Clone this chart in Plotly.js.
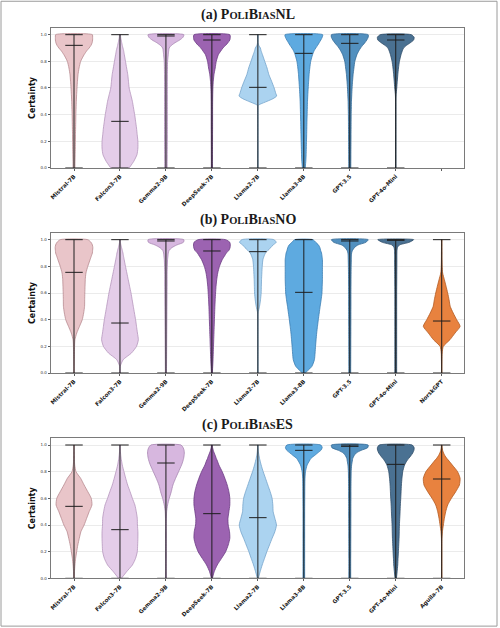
<!DOCTYPE html>
<html>
<head>
<meta charset="utf-8">
<script src="https://cdn.plot.ly/plotly-3.0.1.min.js"></script>
<style>
html,body{margin:0;padding:0;background:#fff;}
#chart{width:500px;height:628px;}
</style>
</head>
<body>
<div id="chart"></div>
<script>
// ---------------- data ----------------
const levels = [0,.05,.1,.15,.2,.25,.3,.35,.4,.45,.5,.55,.6,.65,.7,.75,.8,.85,.88,.9,.92,.94,.96,.98,1];

const modelsNL = ["Mistral-7B","Falcon3-7B","Gemma2-9B","DeepSeek-7B","Llama2-7B","Llama3-8B","GPT-3.5","GPT-4o-Mini",""];
const modelsNO = ["Mistral-7B","Falcon3-7B","Gemma2-9B","DeepSeek-7B","Llama2-7B","Llama3-8B","GPT-3.5","GPT-4o-Mini","NorskGPT"];
const modelsES = ["Mistral-7B","Falcon3-7B","Gemma2-9B","DeepSeek-7B","Llama2-7B","Llama3-8B","GPT-3.5","GPT-4o-Mini","Aguila-7B"];

const mediansNL = [0.92, 0.35, 0.99, 0.96, 0.605, 0.86, 0.935, 0.96];
const mediansNO = [0.755, 0.375, 0.99, 0.915, 0.91, 0.605, 0.99, 0.995, 0.39];
const mediansES = [0.54, 0.365, 0.865, 0.485, 0.455, 0.96, 0.99, 0.855, 0.745];

const dataMin = 0, dataMax = 1;

// density profiles (half-width of each violin at the certainty levels)
const nlMistral = [.02,.022,.025,.028,.03,.032,.035,.038,.04,.045,.05,.057,.065,.075,.087,.11,.145,.22,.28,.33,.37,.395,.405,.405,.40];
const nlFalcon  = [.2,.3,.37,.39,.39,.375,.36,.34,.32,.295,.27,.235,.2,.185,.17,.145,.12,.095,.08,.065,.05,.038,.025,.015,.008];
const nlGemma   = [.025,.026,.027,.028,.029,.03,.03,.03,.03,.03,.03,.03,.03,.03,.031,.033,.036,.05,.06,.07,.12,.2,.3,.37,.39];
const nlDeep    = [.012,.012,.013,.013,.014,.014,.015,.015,.015,.015,.016,.018,.022,.03,.045,.072,.095,.14,.2,.24,.3,.35,.39,.40,.39];
const nlLlama2Levels = [0,.2,.4,.46,.47,.48,.5,.52,.54,.56,.6,.65,.7,.75,.8,.85,.88,.9,.92,.94,1];
const nlLlama2  = [.004,.004,.004,.005,.01,.06,.2,.33,.41,.39,.355,.3,.24,.2,.15,.1,.07,.055,.02,.006,.004];
const nlLlama3  = [.03,.043,.05,.054,.058,.062,.065,.068,.072,.076,.08,.087,.095,.105,.115,.13,.15,.19,.225,.26,.3,.335,.37,.40,.41];
const nlGpt35   = [.022,.023,.024,.025,.026,.027,.028,.029,.03,.033,.036,.043,.05,.06,.072,.09,.11,.155,.2,.235,.28,.33,.37,.40,.40];
const nlGpt4o   = [.004,.004,.004,.004,.004,.004,.004,.004,.004,.004,.004,.008,.022,.033,.045,.06,.08,.115,.145,.17,.235,.32,.39,.40,.34];

const noMistral = [.005,.006,.008,.01,.012,.02,.06,.12,.18,.21,.23,.232,.235,.24,.245,.26,.30,.35,.38,.40,.405,.41,.40,.37,.3];
const noFalcon  = [.004,.006,.07,.25,.36,.40,.38,.36,.34,.315,.29,.265,.24,.21,.18,.15,.12,.092,.075,.065,.05,.035,.02,.01,.005];
const noGemma   = [.012,.013,.014,.015,.016,.017,.018,.019,.02,.021,.022,.023,.024,.025,.025,.025,.03,.035,.045,.05,.07,.13,.235,.38,.39];
const noDeep    = [.01,.018,.025,.03,.035,.04,.045,.05,.055,.06,.065,.072,.08,.09,.105,.127,.165,.225,.28,.315,.37,.395,.40,.39,.3];
const noLlama2  = [.004,.004,.004,.004,.004,.004,.004,.004,.004,.005,.036,.058,.072,.076,.08,.087,.095,.11,.14,.165,.22,.28,.33,.40,.35];
const noLlama3  = [.03,.175,.23,.245,.255,.267,.28,.297,.315,.335,.355,.377,.395,.40,.405,.405,.405,.405,.395,.385,.365,.35,.32,.26,.2];
const noGpt35   = [.02,.02,.021,.021,.022,.022,.023,.023,.024,.024,.025,.025,.025,.026,.027,.028,.03,.033,.036,.04,.06,.1,.175,.35,.40];
const noGpt4o   = [.02,.02,.02,.02,.02,.02,.02,.02,.02,.02,.02,.02,.02,.021,.022,.023,.024,.025,.025,.025,.027,.035,.08,.29,.39];
const noNorsk   = [.004,.004,.006,.01,.035,.18,.29,.40,.325,.25,.185,.16,.13,.095,.058,.02,.01,.007,.006,.006,.005,.005,.005,.005,.005];

const esMistral = [.005,.01,.02,.035,.058,.083,.115,.15,.22,.275,.33,.39,.375,.30,.22,.145,.043,.015,.01,.01,.008,.007,.006,.005,.005];
const esFalcon  = [.03,.145,.27,.34,.377,.385,.39,.39,.38,.377,.355,.325,.27,.22,.167,.125,.087,.05,.035,.025,.018,.012,.008,.006,.005];
const esGemma   = [.008,.008,.008,.008,.008,.008,.008,.008,.008,.01,.015,.036,.072,.116,.152,.21,.275,.34,.37,.385,.395,.40,.395,.375,.33];
const esDeep    = [.01,.05,.116,.21,.30,.355,.39,.384,.355,.35,.37,.39,.39,.37,.333,.283,.225,.152,.12,.094,.075,.05,.03,.015,.006];
const esLlama2  = [.01,.05,.094,.145,.196,.253,.31,.37,.405,.37,.333,.326,.31,.268,.217,.167,.116,.072,.05,.036,.025,.015,.01,.006,.005];
const esLlama3  = [.018,.018,.018,.018,.018,.018,.018,.018,.018,.018,.018,.019,.02,.021,.022,.025,.036,.072,.12,.156,.23,.3,.37,.40,.37];
const esGpt35   = [.02,.02,.02,.02,.021,.021,.022,.022,.023,.023,.024,.024,.025,.025,.026,.028,.03,.04,.055,.065,.094,.14,.246,.39,.40];
const esGpt4o   = [.015,.03,.043,.05,.058,.065,.072,.076,.08,.087,.094,.1,.109,.116,.123,.135,.152,.192,.24,.283,.33,.37,.395,.40,.36];
const esAguila  = [.004,.004,.004,.004,.004,.004,.006,.015,.036,.058,.087,.13,.21,.305,.385,.40,.345,.23,.16,.11,.07,.04,.02,.01,.005];

const yTickVals = [0, 0.2, 0.4, 0.6, 0.8, 1.0];
const yTickText = ["0.0","0.2","0.4","0.6","0.8","1.0"];

// ---------------- styles ----------------
const fills = ["#e9c5c9","#e4cde9","#d7b7df","#9c63b1","#abd3f0","#5eaae0","#5290bf","#4a7192","#e8823f"];
const edges = ["#b88a90","#b596bd","#a887b3","#6c3c84","#76a5cc","#3b7db3","#336a96","#2e4d68","#b25a22"];

const panels = [
  {title:'(a) P<span style="font-size:10.5px">OLI</span>B<span style="font-size:10.5px">IAS</span>NL',
   models: modelsNL, medians: mediansNL,
   profiles: [[levels,nlMistral],[levels,nlFalcon],[levels,nlGemma],[levels,nlDeep],[nlLlama2Levels,nlLlama2],[levels,nlLlama3],[levels,nlGpt35],[levels,nlGpt4o]],
   dom:[0.7325,0.9554], ty:0.976},
  {title:'(b) P<span style="font-size:10.5px">OLI</span>B<span style="font-size:10.5px">IAS</span>NO',
   models: modelsNO, medians: mediansNO,
   profiles: [[levels,noMistral],[levels,noFalcon],[levels,noGemma],[levels,noDeep],[levels,noLlama2],[levels,noLlama3],[levels,noGpt35],[levels,noGpt4o],[levels,noNorsk]],
   dom:[0.406,0.629], ty:0.649},
  {title:'(c) P<span style="font-size:10.5px">OLI</span>B<span style="font-size:10.5px">IAS</span>ES',
   models: modelsES, medians: mediansES,
   profiles: [[levels,esMistral],[levels,esFalcon],[levels,esGemma],[levels,esDeep],[levels,esLlama2],[levels,esLlama3],[levels,esGpt35],[levels,esGpt4o],[levels,esAguila]],
   dom:[0.0791,0.302], ty:0.3228}
];

const capHalf = 0.19;
const traces = [];
const layout = {
  width: 500, height: 628,
  margin: {l:0, r:0, t:0, b:0},
  paper_bgcolor: '#ffffff', plot_bgcolor: '#ffffff',
  showlegend: false,
  annotations: [], shapes: []
};

panels.forEach((p, k) => {
  const sfx = k === 0 ? '' : String(k+1);
  const xa = 'x' + sfx, ya = 'y' + sfx;
  p.profiles.forEach((pr, i) => {
    const pos = i + 1;
    const Y = pr[0], W = pr[1];
    const xs = Y.map((y, j) => pos + W[j]).concat(Y.slice().reverse().map((y, j) => pos - W[W.length - 1 - j]));
    const ys = Y.concat(Y.slice().reverse());
    traces.push({
      type: 'scatter', mode: 'lines', x: xs, y: ys, xaxis: xa, yaxis: ya,
      fill: 'toself', fillcolor: fills[i],
      line: {color: edges[i], width: 0.8, shape: 'spline', smoothing: 0.6},
      hoverinfo: 'skip'
    });
  });
  // extrema, medians and vertical bars
  const lx = [], ly = [];
  p.medians.forEach((m, i) => {
    const pos = i + 1;
    lx.push(pos, pos, null);            ly.push(dataMin, dataMax, null);
    lx.push(pos-capHalf, pos+capHalf, null); ly.push(dataMax, dataMax, null);
    lx.push(pos-capHalf, pos+capHalf, null); ly.push(dataMin, dataMin, null);
    lx.push(pos-capHalf, pos+capHalf, null); ly.push(m, m, null);
  });
  traces.push({type:'scatter', mode:'lines', x: lx, y: ly, xaxis: xa, yaxis: ya,
    line:{color:'#1e1e1e', width:1}, hoverinfo:'skip'});

  layout['xaxis' + sfx] = {
    domain: [0.1014, 0.928], range: [0.493, 9.485], anchor: ya,
    tickmode: 'array', tickvals: p.models.map((m, i) => i + 1), ticktext: p.models,
    tickangle: -45, tickfont: {family: 'DejaVu Sans', size: 5.6, color: '#1a1a1a', weight: 'bold'},
    ticks: 'outside', ticklen: 2, tickwidth: 0.8, tickcolor: '#333',
    showgrid: false, zeroline: false,
    showline: true, mirror: true, linecolor: '#7a7a7a', linewidth: 1,
    automargin: false, fixedrange: true
  };
  layout['yaxis' + sfx] = {
    domain: p.dom, range: [0, 1.05], anchor: xa,
    tickmode: 'array', tickvals: yTickVals, ticktext: yTickText,
    tickfont: {family: 'DejaVu Sans', size: 4, color: '#333'},
    ticks: 'outside', ticklen: 2, tickwidth: 0.8, tickcolor: '#333',
    showgrid: true, gridcolor: '#e6e6e6', gridwidth: 0.8,
    zeroline: false, showline: true, mirror: true, linecolor: '#7a7a7a', linewidth: 1,
    title: {text: 'Certainty', standoff: 3, font: {family: 'DejaVu Sans', size: 8, color: '#111', weight: 'bold'}},
    automargin: false, fixedrange: true
  };
  layout.annotations.push({
    xref: 'paper', yref: 'paper', x: 0.495, y: p.ty, xanchor: 'center', yanchor: 'middle',
    text: p.title, showarrow: false,
    font: {family: 'Liberation Serif', size: 14, color: '#1a1a1a', weight: 'bold'}
  });
});

layout.shapes.push({type:'rect', xref:'paper', yref:'paper', x0:0.002, x1:0.994, y0:0.003, y1:0.998,
  line:{color:'#9a9a9a', width:1}, fillcolor:'rgba(0,0,0,0)', layer:'below'});

Plotly.newPlot('chart', traces, layout, {staticPlot: true, displayModeBar: false});
</script>
</body>
</html>
